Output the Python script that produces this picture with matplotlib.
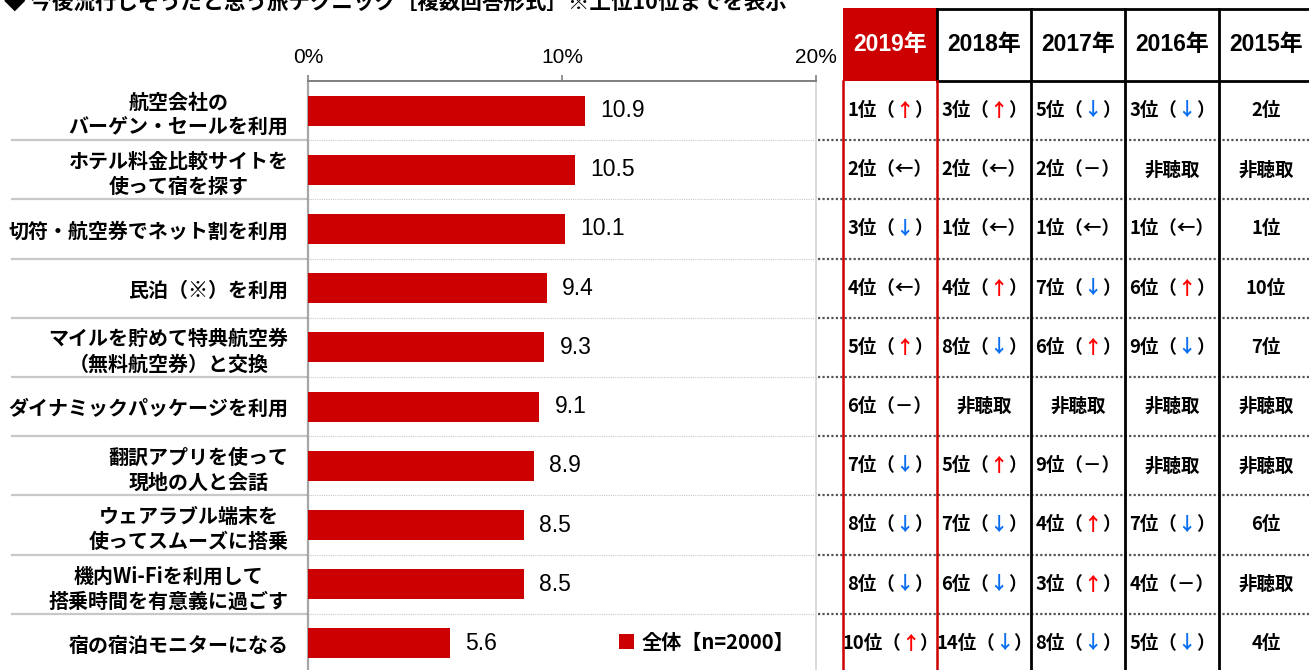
import matplotlib
matplotlib.use('Agg')
import matplotlib.pyplot as plt
from matplotlib.patches import Rectangle
from matplotlib.lines import Line2D
from matplotlib.offsetbox import TextArea, HPacker, AnnotationBbox

CJK = ['Noto Sans CJK JP', 'DejaVu Sans']
LAT = ['Liberation Sans', 'Noto Sans CJK JP']
plt.rcParams['font.family'] = CJK

# ---- data ----
categories = [
    '航空会社の\nバーゲン・セールを利用',
    'ホテル料金比較サイトを\n使って宿を探す',
    '切符・航空券でネット割を利用',
    '民泊（※）を利用',
    'マイルを貯めて特典航空券\n（無料航空券）と交換',
    'ダイナミックパッケージを利用',
    '翻訳アプリを使って\n現地の人と会話',
    'ウェアラブル端末を\n使ってスムーズに搭乗',
    '機内Wi-Fiを利用して\n搭乗時間を有意義に過ごす',
    '宿の宿泊モニターになる',
]
values = [10.9, 10.5, 10.1, 9.4, 9.3, 9.1, 8.9, 8.5, 8.5, 5.6]
series_label = '全体【n=2000】'
xticks = [0, 10, 20]
xtick_labels = ['0%', '10%', '20%']

years = ['2019年', '2018年', '2017年', '2016年', '2015年']
rank_2019 = ['1位（↑）', '2位（←）', '3位（↓）', '4位（←）', '5位（↑）',
             '6位（－）', '7位（↓）', '8位（↓）', '8位（↓）', '10位（↑）']
rank_2018 = ['3位（↑）', '2位（←）', '1位（←）', '4位（↑）', '8位（↓）',
             '非聴取', '5位（↑）', '7位（↓）', '6位（↓）', '14位（↓）']
rank_2017 = ['5位（↓）', '2位（－）', '1位（←）', '7位（↓）', '6位（↑）',
             '非聴取', '9位（－）', '4位（↑）', '3位（↑）', '8位（↓）']
rank_2016 = ['3位（↓）', '非聴取', '1位（←）', '6位（↑）', '9位（↓）',
             '非聴取', '非聴取', '7位（↓）', '4位（－）', '5位（↓）']
rank_2015 = ['2位', '非聴取', '1位', '10位', '7位',
             '非聴取', '非聴取', '6位', '非聴取', '4位']
ranks = [rank_2019, rank_2018, rank_2017, rank_2016, rank_2015]

RED = '#CC0000'
arrow_colors = {'↑': '#FF0000', '↓': '#0A6EF0'}

# ---- layout (pixels) ----
W, H = 1309, 670
chart_l, chart_r, chart_t = 308, 816, 81
row_h = 59.2
n = len(categories)
tab_l, col_w, head_t = 843, 94, 8
ax_bottom = (H - chart_t - n * row_h) / H

fig = plt.figure(figsize=(W / 100, H / 100), dpi=100)

# ============================================================
# bar chart
# ============================================================
ax = fig.add_axes([chart_l / W, ax_bottom, (chart_r - chart_l) / W, n * row_h / H])
ypos = list(range(n))
bars = ax.barh(ypos, values, height=0.51, color=RED, label=series_label, zorder=3)
ax.bar_label(bars, fmt='%.1f', padding=11, fontsize=16.5, family=LAT)
ax.set_xlim(0, 20)
ax.set_ylim(n - 0.5, -0.5)

ax.xaxis.tick_top()
ax.set_xticks(xticks, xtick_labels, fontsize=15, family=LAT)
for lab in ax.get_xticklabels():
    lab.set_fontstretch('condensed')
ax.tick_params(axis='x', length=4, width=1.2, color='#808080', pad=6)
ax.set_yticks(ypos, categories, fontsize=14.4, fontweight='bold')
for lab in ax.get_yticklabels():
    lab.set_multialignment('center')
    lab.set_linespacing(1.25)
ax.tick_params(axis='y', which='major', length=0, pad=14)
bounds = [i + 0.5 for i in range(n - 1)]
ax.set_yticks(bounds, minor=True)
ax.tick_params(axis='y', which='minor', length=4, width=1.2, color='#A6A6A6')

ax.spines['top'].set_color('#7F7F7F')
ax.spines['top'].set_linewidth(1.4)
ax.spines['left'].set_color('#A6A6A6')
ax.spines['left'].set_linewidth(1.6)
ax.spines['right'].set_color('#D9D9D9')
ax.spines['right'].set_linewidth(1.4)
ax.spines['bottom'].set_visible(False)

tr = ax.get_yaxis_transform()
for b in bounds:
    ax.axhline(b, color='#C8C8C8', lw=0.8, ls=(0, (1, 1)), zorder=1)
    ax.add_line(Line2D([-(chart_l - 12) / (chart_r - chart_l), -0.006], [b, b],
                       transform=tr, color='#C8C8C8', lw=1.6, clip_on=False))

ax.legend(loc='center left', bbox_to_anchor=(619 / W, (H - 642) / H),
          bbox_transform=fig.transFigure, frameon=False, handlelength=0.75,
          handleheight=0.75, handletextpad=0.35, borderpad=0, borderaxespad=0,
          prop={'family': CJK, 'weight': 'bold', 'size': 14.5})

fig.text(4 / W, 1 - 3 / H,
         '◆ 今後流行しそうだと思う旅テクニック［複数回答形式］※上位10位までを表示',
         fontsize=15.5, fontweight='bold', va='center', ha='left')

# ============================================================
# ranking table
# ============================================================
sep_l = 818
head_y0 = -0.5 - (chart_t - head_t) / row_h
tx = fig.add_axes([sep_l / W, ax_bottom, (W - sep_l) / W, (H - head_t) / H - ax_bottom])
tx.set_xlim(-(tab_l - sep_l) / col_w, (W - tab_l) / col_w)
tx.set_ylim(n - 0.5, head_y0)
tx.axis('off')

ncol = len(years)
x_end = (W - tab_l) / col_w + 0.1
# header
tx.add_patch(Rectangle((0, head_y0), 1, -0.5 - head_y0, color=RED, lw=0, zorder=2))
tx.plot([1, x_end], [head_y0 + 0.02, head_y0 + 0.02], color='black', lw=2, clip_on=False)
tx.plot([1, x_end], [-0.5, -0.5], color='black', lw=2)
hy = (head_y0 - 0.5) / 2
for j, yr in enumerate(years):
    tx.text(j + 0.5, hy, yr, ha='center', va='center', fontsize=16.5,
            fontweight='bold', family=LAT, color='white' if j == 0 else 'black', zorder=3)

# grid
for b in bounds:
    tx.plot([tx.get_xlim()[0], x_end], [b, b], color='#555555', lw=1.6, ls=(0, (1, 1)))
for j in range(2, ncol):
    tx.plot([j, j], [head_y0, n - 0.5], color='black', lw=2)
tx.plot([1, 1], [head_y0, -0.5], color='black', lw=2)
for j in (0, 1):
    tx.plot([j, j], [-0.5, n - 0.5], color=RED, lw=1.8, zorder=4)


def cell(text):
    parts = []
    for ch in text:
        c = arrow_colors.get(ch, 'black')
        if parts and parts[-1][1] == c:
            parts[-1][0] += ch
        else:
            parts.append([ch, c])
    kids = [TextArea(s, textprops=dict(color=c, fontsize=13.3, fontweight='bold', family=CJK))
            for s, c in parts]
    return HPacker(children=kids, align='baseline', pad=0, sep=0)


for j, col in enumerate(ranks):
    for i, s in enumerate(col):
        ab = AnnotationBbox(cell(s), (j + 0.5, i), xycoords='data', frameon=False,
                            box_alignment=(0.5, 0.5), pad=0)
        tx.add_artist(ab)

fig.savefig('out.png', dpi=100)
plt.close(fig)
print('saved: out.png')
